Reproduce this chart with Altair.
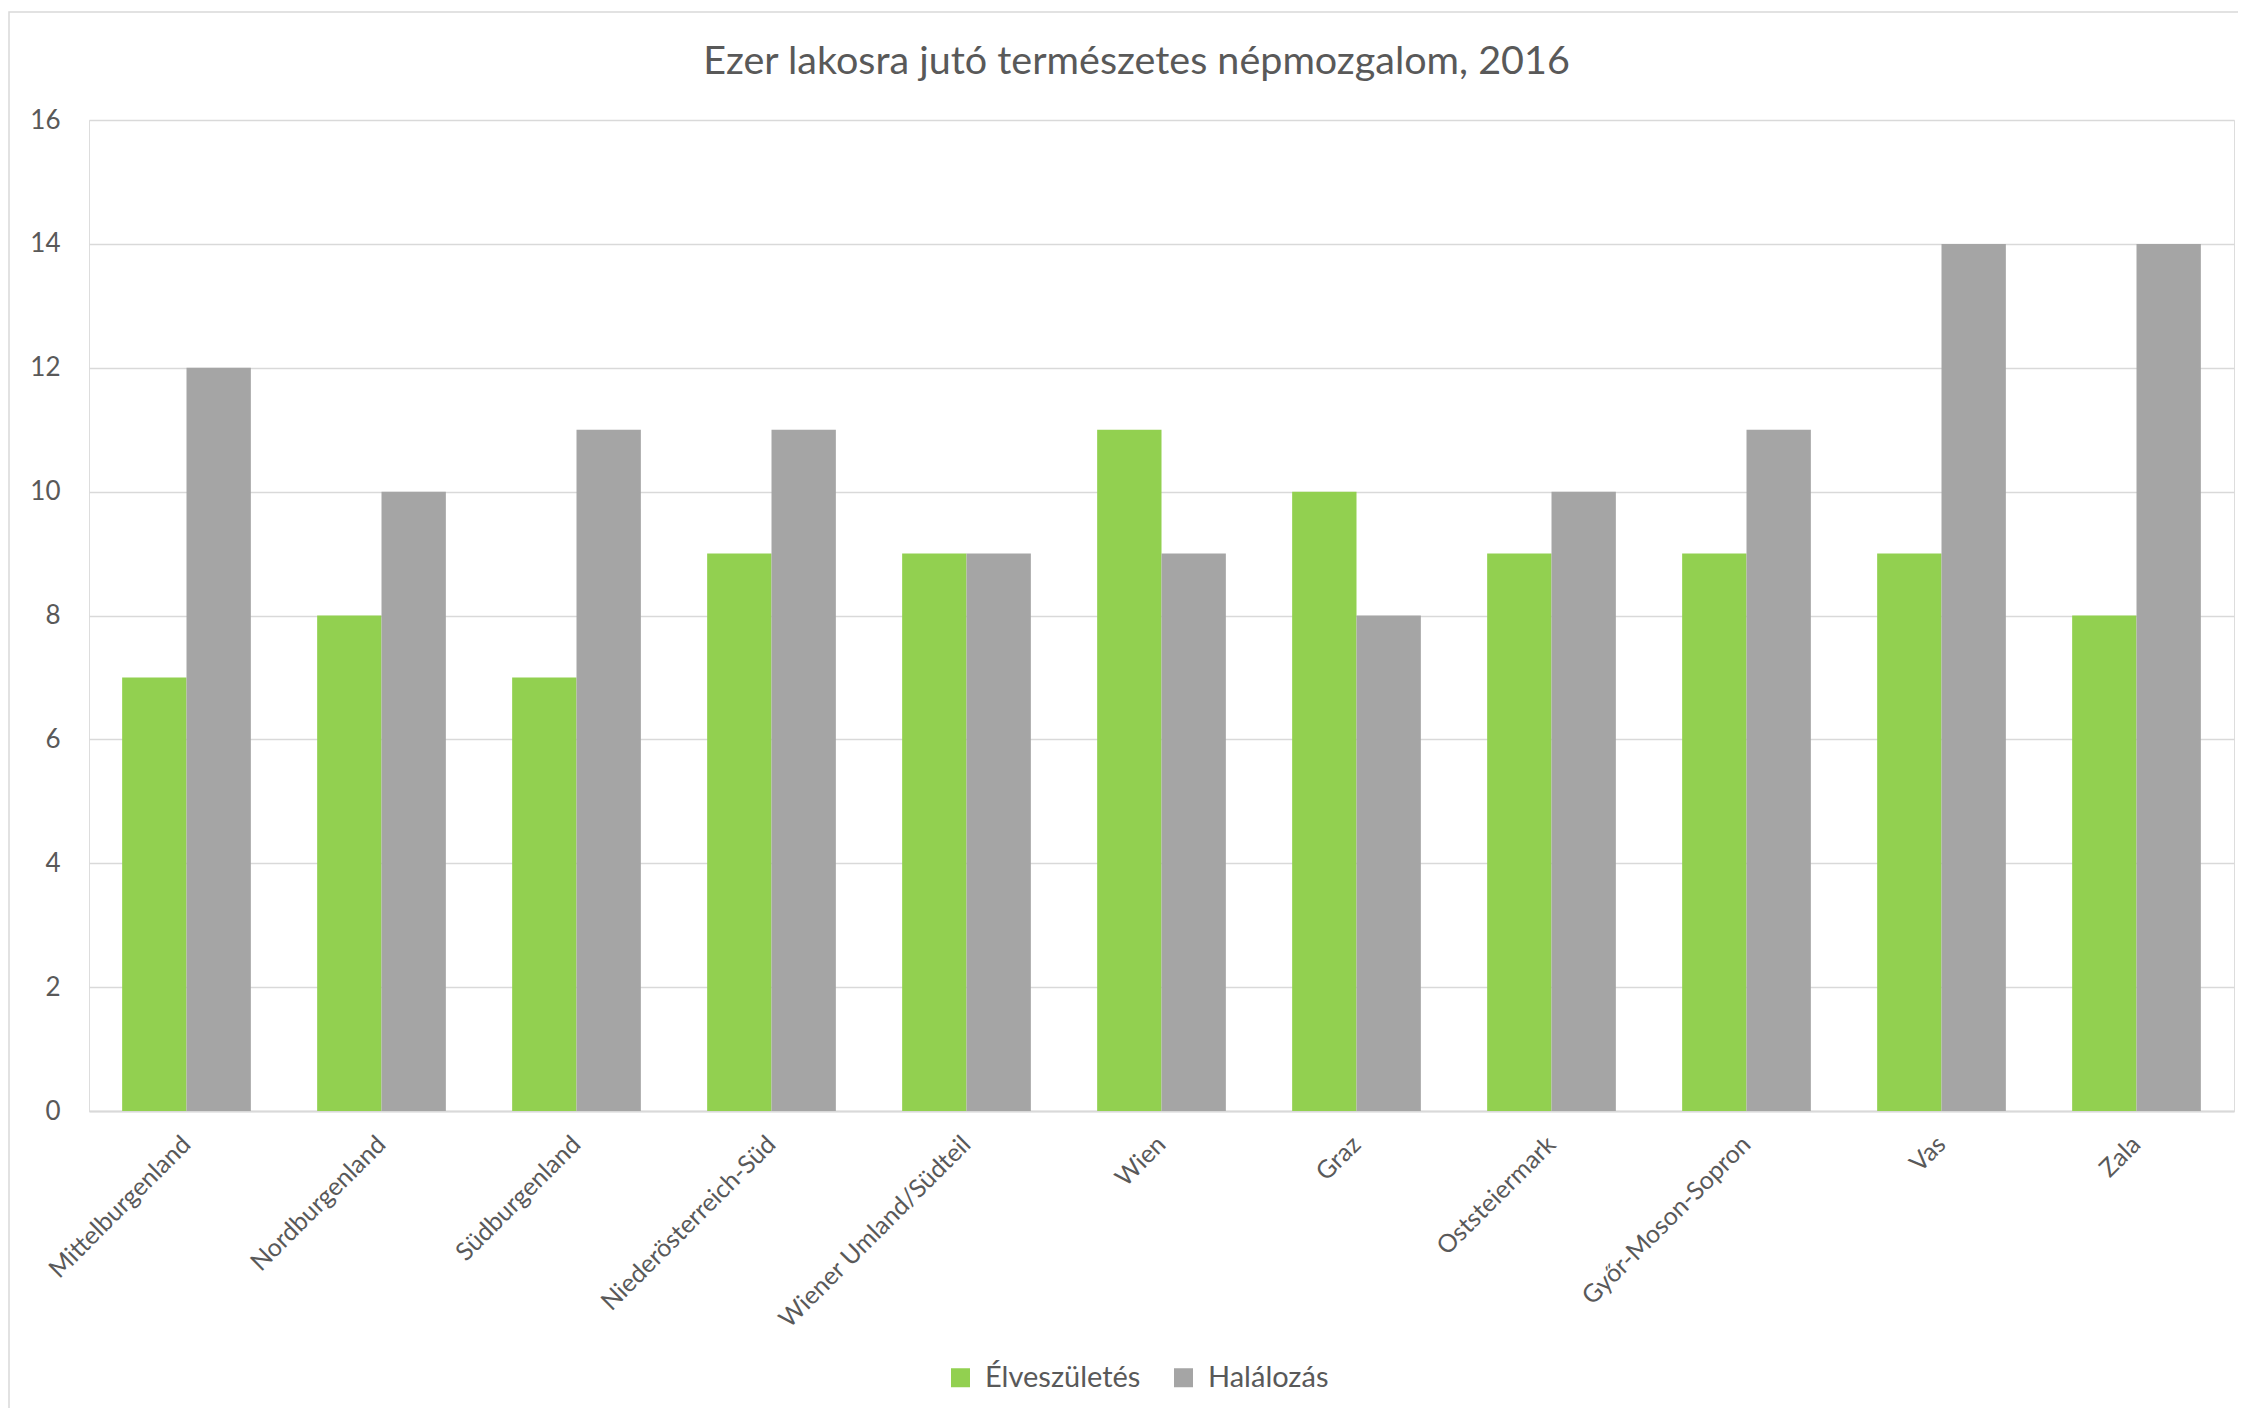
import altair as alt
import pandas as pd

regions = ["Mittelburgenland", "Nordburgenland", "Südburgenland", "Niederösterreich-Süd",
           "Wiener Umland/Südteil", "Wien", "Graz", "Oststeiermark",
           "Győr-Moson-Sopron", "Vas", "Zala"]
births = [7, 8, 7, 9, 9, 11, 10, 9, 9, 9, 8]
deaths = [12, 10, 11, 11, 9, 9, 8, 10, 11, 14, 14]
series = ["Élveszületés", "Halálozás"]
colors = ["#92D050", "#A5A5A5"]
y_ticks = [0, 2, 4, 6, 8, 10, 12, 14, 16]

rows = []
for r, b, d in zip(regions, births, deaths):
    rows.append({"region": r, "series": series[0], "value": b})
    rows.append({"region": r, "series": series[1], "value": d})
df = pd.DataFrame(rows)

W, H = 2145, 991
TXT = "#595959"
GRID = "#D9D9D9"
FONT = "Lato"

bars = alt.Chart(df).mark_bar().encode(
    x=alt.X("region:N", sort=regions,
            scale=alt.Scale(paddingInner=0.34, paddingOuter=0.17),
            axis=alt.Axis(title=None, labelAngle=-45, labelAlign="right",
                          labelBaseline="middle", labelFontSize=25, labelColor=TXT,
                          labelFont=FONT, labelPadding=29, labelLimit=0,
                          ticks=False, tickSize=0,
                          domainColor=GRID, domainWidth=2, grid=False)),
    xOffset=alt.XOffset("series:N", sort=series,
                        scale=alt.Scale(paddingInner=0, paddingOuter=0)),
    y=alt.Y("value:Q", scale=alt.Scale(domain=[0, 16], nice=False),
            axis=alt.Axis(title=None, values=y_ticks, labelFontSize=26,
                          labelColor=TXT, labelFont=FONT, labelPadding=29,
                          ticks=False, tickSize=0, domain=False,
                          gridColor=GRID, gridWidth=1.5)),
    color=alt.Color("series:N", sort=series,
                    scale=alt.Scale(domain=series, range=colors),
                    legend=alt.Legend(title=None, orient="none", legendX=857, legendY=1243,
                                      direction="horizontal", symbolType="square",
                                      symbolSize=361, symbolStrokeWidth=0,
                                      labelFontSize=29, labelFont=FONT, labelColor=TXT,
                                      labelOffset=10, columnPadding=28)),
)

border = alt.Chart(pd.DataFrame({"a": [0]})).mark_rect(
    filled=False, stroke=GRID, strokeWidth=1.5
).encode(
    x=alt.value(-80), x2=alt.value(W + 100),
    y=alt.value(-108), y2=alt.value(H + 400),
)

chart = alt.layer(border, bars).properties(
    width=W, height=H,
    autosize=alt.AutoSizeParams(type="none"),
    padding={"left": 81, "top": 112, "right": 4, "bottom": 297},
    title=alt.TitleParams("Ezer lakosra jutó természetes népmozgalom, 2016",
                          fontSize=39.5, font=FONT, fontWeight="normal", color=TXT,
                          anchor="middle", frame="group", offset=-71, dx=-25),
).configure_view(strokeWidth=0).configure(font=FONT)

chart.save("out.html", embed_options={"renderer": "svg", "actions": False})
